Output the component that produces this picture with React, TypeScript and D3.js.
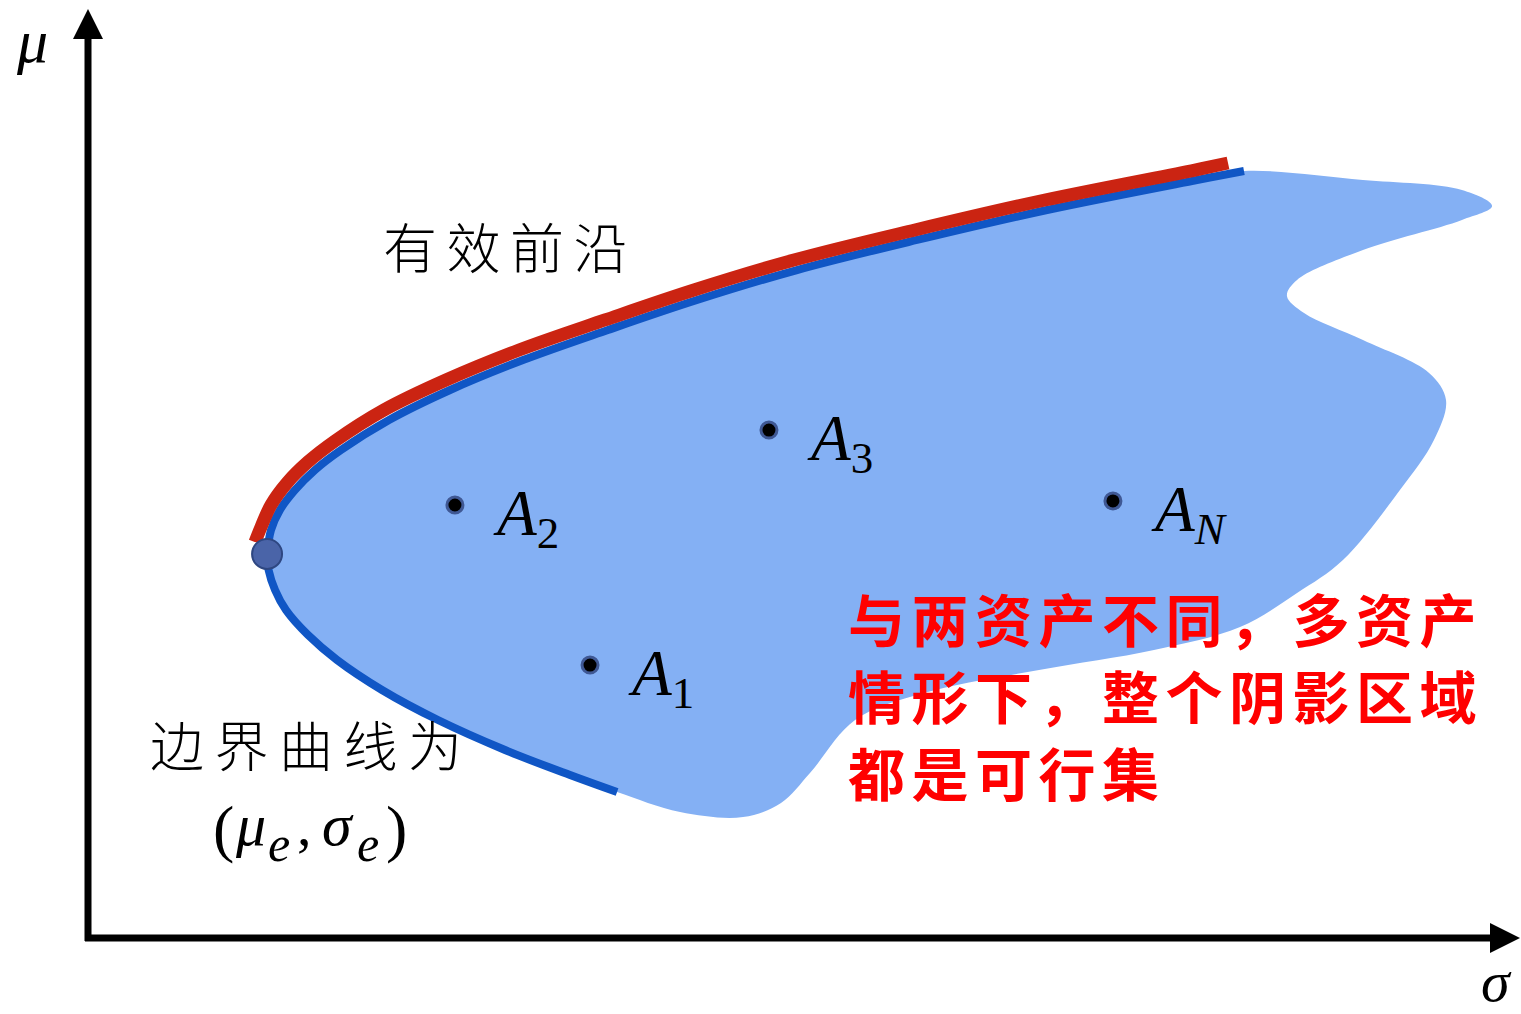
import * as d3 from "d3";

// Schematic mean–variance diagram: sigma (risk) on x, mu (return) on y, arbitrary units

// upper branch of the boundary (min-variance point -> right)
const upperBoundary: [number, number][] = [
  [1.279, 4.267], [1.307, 4.533], [1.371, 4.756], [1.479, 4.978], [1.621, 5.2],
  [1.807, 5.422], [2.15, 5.756], [2.586, 6.089], [3.107, 6.422], [3.714, 6.756],
  [4.35, 7.089], [5.064, 7.422], [5.921, 7.756], [6.85, 8.089], [7.921, 8.422],
  [8.257, 8.522],
];

// efficient frontier (drawn just above the upper branch)
const efficientFrontier: [number, number][] = [
  [1.193, 4.4], [1.236, 4.567], [1.307, 4.811], [1.421, 5.056], [1.571, 5.289],
  [1.764, 5.522], [2.114, 5.867], [2.557, 6.2], [3.079, 6.533], [3.693, 6.867],
  [4.329, 7.2], [5.043, 7.533], [5.907, 7.867], [6.836, 8.2], [7.907, 8.533],
  [8.143, 8.611],
];

// lower branch of the boundary (min-variance point -> lower right)
const lowerBoundary: [number, number][] = [
  [1.279, 4.267], [1.29, 4.089], [1.336, 3.867], [1.414, 3.644], [1.571, 3.367],
  [1.779, 3.089], [2.1, 2.756], [2.5, 2.422], [2.979, 2.089], [3.443, 1.811],
  [3.779, 1.622],
];

// outer edge of the feasible set (top right -> bottom)
const outerEdge: [number, number][] = [
  [9.107, 8.422], [9.814, 8.311], [10.029, 8.133], [9.814, 7.978], [9.107, 7.644],
  [8.636, 7.311], [8.564, 7.133], [8.686, 6.944], [9.107, 6.644], [9.579, 6.278],
  [9.7, 5.978], [9.614, 5.533], [9.371, 4.978], [8.964, 4.2], [8.636, 3.833],
  [8.229, 3.456], [7.614, 3.2], [6.793, 2.978], [5.971, 2.722], [5.479, 2.422],
  [5.157, 1.833], [4.95, 1.5], [4.679, 1.344], [4.229, 1.4],
];

const minVariance: [number, number] = [1.279, 4.267];

const assetNames = ["1", "2", "3", "N"];
const assetSigma = [3.586, 2.621, 4.864, 7.321];
const assetMu = [3.033, 4.811, 5.644, 4.856];

const frontierLabel = "有效前沿";
const boundaryLabel = "边界曲线为";
const noteLines = ["与两资产不同，多资产", "情形下，整个阴影区域", "都是可行集"];

const WIDTH = 1521;
const HEIGHT = 1014;

export default function App() {
  const x = d3.scaleLinear().domain([0, 10]).range([88, 1488]);
  const y = d3.scaleLinear().domain([0, 10]).range([938, 38]);

  const open = d3
    .line<[number, number]>()
    .x((d) => x(d[0]))
    .y((d) => y(d[1]))
    .curve(d3.curveCatmullRom.alpha(0.5));

  const closed = d3
    .line<[number, number]>()
    .x((d) => x(d[0]))
    .y((d) => y(d[1]))
    .curve(d3.curveCatmullRomClosed.alpha(0.5));

  const region = [
    ...upperBoundary,
    ...outerEdge,
    ...lowerBoundary.slice(1).reverse().slice(0, -1),
  ];

  const x0 = x(0);
  const y0 = y(0);
  const serif = "'Liberation Serif', 'DejaVu Serif', serif";
  const cjk = "'Noto Sans CJK SC', sans-serif";

  return (
    <svg
      width={WIDTH}
      height={HEIGHT}
      style={{ position: "absolute", left: 0, top: 0, background: "#fff" }}
    >
      {/* feasible set */}
      <path d={closed(region) ?? ""} fill="#84b0f4" />
      <path d={open(upperBoundary) ?? ""} fill="none" stroke="#1056c5" strokeWidth={8} />
      <path d={open(lowerBoundary) ?? ""} fill="none" stroke="#1056c5" strokeWidth={8} />
      <path d={open(efficientFrontier) ?? ""} fill="none" stroke="#cb2412" strokeWidth={13} />
      <circle
        cx={x(minVariance[0])}
        cy={y(minVariance[1])}
        r={15}
        fill="#4a64a8"
        stroke="#2e4782"
        strokeWidth={2}
      />

      {/* assets */}
      {assetNames.map((name, i) => (
        <g key={name}>
          <circle cx={x(assetSigma[i])} cy={y(assetMu[i])} r={8} fill="#000" stroke="#3f5894" strokeWidth={3} />
          <text
            x={x(assetSigma[i]) + 42}
            y={y(assetMu[i]) + 30}
            fontFamily={serif}
            fontStyle="italic"
            fontSize={65}
          >
            A
            <tspan fontStyle={name === "N" ? "italic" : "normal"} fontSize={45} dy={13}>
              {name}
            </tspan>
          </text>
        </g>
      ))}

      {/* axes */}
      <line x1={x0} y1={y0 + 3} x2={x0} y2={36} stroke="#000" strokeWidth={7} />
      <path d={`M${x0},9 L${x0 - 15},39 L${x0 + 15},39 Z`} fill="#000" />
      <line x1={x0 - 3} y1={y0} x2={1492} y2={y0} stroke="#000" strokeWidth={7} />
      <path d={`M1520,${y0} L1490,${y0 - 15} L1490,${y0 + 15} Z`} fill="#000" />
      <text x={17} y={62} fontFamily={serif} fontStyle="italic" fontSize={62}>μ</text>
      <text x={1481} y={1001} fontFamily={serif} fontStyle="italic" fontSize={58}>σ</text>

      {/* annotations */}
      <text
        x={383}
        y={245}
        dominantBaseline="central"
        fontFamily={cjk}
        fontWeight={300}
        fontSize={54}
        letterSpacing={9.5}
      >
        {frontierLabel}
      </text>
      <text
        x={150}
        y={743}
        dominantBaseline="central"
        fontFamily={cjk}
        fontWeight={300}
        fontSize={54}
        letterSpacing={10.5}
      >
        {boundaryLabel}
      </text>
      <g fontFamily={serif}>
        <text x={213} y={850} fontSize={64}>(</text>
        <text x={236} y={845} fontSize={60} fontStyle="italic">μ</text>
        <text x={268} y={861} fontSize={50} fontStyle="italic">e</text>
        <text x={297} y={845} fontSize={58}>,</text>
        <text x={322} y={845} fontSize={60} fontStyle="italic">σ</text>
        <text x={357} y={861} fontSize={50} fontStyle="italic">e</text>
        <text x={386} y={850} fontSize={64}>)</text>
      </g>
      {noteLines.map((line, i) => (
        <text
          key={i}
          x={848}
          y={617 + i * 77}
          dominantBaseline="central"
          fontFamily={cjk}
          fontWeight={700}
          fontSize={57}
          letterSpacing={6.5}
          fill="#ff0000"
        >
          {line}
        </text>
      ))}
    </svg>
  );
}
